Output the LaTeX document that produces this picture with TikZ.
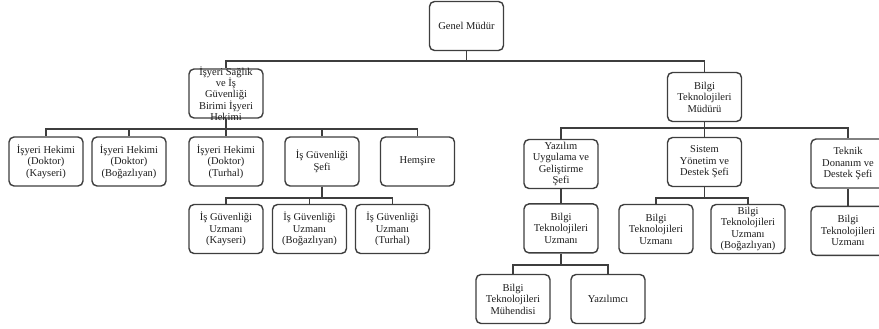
\documentclass[tikz,border=0pt]{standalone}
\usepackage{fontspec}
\setmainfont{Liberation Serif}
\usetikzlibrary{positioning}
\definecolor{chartline}{RGB}{62,62,62}
\definecolor{charttext}{RGB}{28,28,28}

\begin{document}
\begin{tikzpicture}[
x=1pt, y=-1pt,
unit/.style={draw=chartline, line width=1.4pt, rounded corners=5pt, align=center, minimum width=74pt, minimum height=49pt, inner sep=2pt, text=charttext, font=\fontsize{10.5}{11.5}\selectfont},
unittext/.style={align=center, inner sep=0pt, text=charttext, font=\fontsize{10.5}{11.25}\selectfont},
link/.style={draw=chartline, line width=1.4pt}
]
\useasboundingbox (0,0) rectangle (879,329);
\node[unit] (genel) at (466.5,26) {Genel Müdür};
\node[unit, label={[unittext]center:{İşyeri Sağlık\\ve İş\\Güvenliği\\Birimi İşyeri\\Hekimi}}] (isg) at (226,93.5) {};
\node[unit] (btm) at (704.5,97) {Bilgi\\Teknolojileri\\Müdürü};
% left branch
\node[unit] (hekkay) at (46,161.5) {İşyeri Hekimi\\(Doktor)\\(Kayseri)};
\node[unit] (hekbog) at (129,161.5) {İşyeri Hekimi\\(Doktor)\\(Boğazlıyan)};
\node[unit] (hektur) at (226,161.5) {İşyeri Hekimi\\(Doktor)\\(Turhal)};
\node[unit] (isgsef) at (322,161.5) {İş Güvenliği\\Şefi};
\node[unit] (hemsire) at (417.5,161.5) {Hemşire};
\node[unit] (uzkay) at (226,229) {İş Güvenliği\\Uzmanı\\(Kayseri)};
\node[unit] (uzbog) at (309.5,229) {İş Güvenliği\\Uzmanı\\(Boğazlıyan)};
\node[unit] (uztur) at (392.5,229) {İş Güvenliği\\Uzmanı\\(Turhal)};
% right branch
\node[unit] (yazilim) at (561,164) {Yazılım\\Uygulama ve\\Geliştirme\\Şefi};
\node[unit] (sistem) at (704.5,162) {Sistem\\Yönetim ve\\Destek Şefi};
\node[unit] (teknik) at (848,163.5) {Teknik\\Donanım ve\\Destek Şefi};
\node[unit, below=14pt of yazilim] (btuyaz) {Bilgi\\Teknolojileri\\Uzmanı};
\node[unit] (btusis) at (656,229) {Bilgi\\Teknolojileri\\Uzmanı};
\node[unit] (btubog) at (748,229) {Bilgi\\Teknolojileri\\Uzmanı\\(Boğazlıyan)};
\node[unit, below=17pt of teknik] (btutek) {Bilgi\\Teknolojileri\\Uzmanı};
\node[unit] (muhendis) at (513,299) {Bilgi\\Teknolojileri\\Mühendisi};
\node[unit] (yazilimci) at (608,299) {Yazılımcı};
% bus heights
\coordinate (topbus) at (0,61);
\coordinate (leftbus) at (0,129);
\coordinate (rightbus) at (0,128);
\coordinate (sefbus) at (0,198);
\coordinate (sisbus) at (0,198);
\coordinate (btubus) at (0,265);
\draw[link] (genel.south) |- (isg.north |- topbus) -- (isg.north);
\draw[link] (genel.south) |- (btm.north |- topbus) -- (btm.north);
\draw[link] (isg.south) |- (hekkay.north |- leftbus) -- (hekkay.north);
\draw[link] (isg.south) |- (hekbog.north |- leftbus) -- (hekbog.north);
\draw[link] (isg.south) -- (hektur.north);
\draw[link] (isg.south) |- (isgsef.north |- leftbus) -- (isgsef.north);
\draw[link] (isg.south) |- (hemsire.north |- leftbus) -- (hemsire.north);
\draw[link] (isgsef.south) |- (uzkay.north |- sefbus) -- (uzkay.north);
\draw[link] (isgsef.south) |- (uzbog.north |- sefbus) -- (uzbog.north);
\draw[link] (isgsef.south) |- (uztur.north |- sefbus) -- (uztur.north);
\draw[link] (btm.south) |- (yazilim.north |- rightbus) -- (yazilim.north);
\draw[link] (btm.south) -- (sistem.north);
\draw[link] (btm.south) |- (teknik.north |- rightbus) -- (teknik.north);
\draw[link] (yazilim.south) -- (btuyaz.north);
\draw[link] (sistem.south) |- (btusis.north |- sisbus) -- (btusis.north);
\draw[link] (sistem.south) |- (btubog.north |- sisbus) -- (btubog.north);
\draw[link] (teknik.south) -- (btutek.north);
\draw[link] (btuyaz.south) |- (muhendis.north |- btubus) -- (muhendis.north);
\draw[link] (btuyaz.south) |- (yazilimci.north |- btubus) -- (yazilimci.north);
\end{tikzpicture}
\end{document}
